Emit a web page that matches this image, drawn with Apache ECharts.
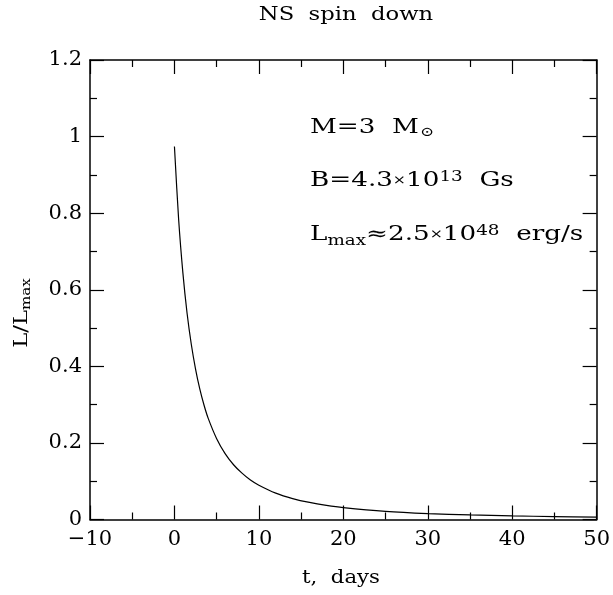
<!DOCTYPE html>
<html>
<head>
<meta charset="utf-8">
<script src="https://cdn.jsdelivr.net/npm/echarts@6/dist/echarts.min.js"></script>
<style>html,body{margin:0;padding:0;background:#fff}#c{width:613px;height:595px}</style>
</head>
<body>
<div id="c"></div>
<script>
// Data
var tDays = [0, 0.5, 1, 1.5, 2, 2.5, 3, 3.5, 4, 5, 6, 7, 8, 9, 10, 12, 14, 16, 18, 20, 25, 30, 35, 40, 45, 50];
var lumRatio = [0.974, 0.783, 0.644, 0.538, 0.457, 0.393, 0.341, 0.299, 0.264, 0.211, 0.172, 0.143, 0.121, 0.103, 0.0895, 0.0689, 0.0547, 0.0445, 0.0369, 0.0311, 0.0214, 0.0156, 0.0119, 0.0094, 0.0076, 0.0062];
var xRange = [-10, 50];
var yRange = [0, 1.2];
var titleText = 'NS  spin  down';
var xName = 't,  days';

var FONT = 'DejaVu Serif';
var SX = 1.26;
var SXA = 1.31;
var chart = echarts.init(document.getElementById('c'), null, {renderer: 'canvas'});
var pts = tDays.map(function (t, i) { return [t, lumRatio[i]]; });

function axisCommon(showLabels, isX) {
  return {
    axisLine: {show: true, onZero: false, lineStyle: {color: '#000', width: 1.5}},
    axisTick: {show: true, inside: true, length: 14, lineStyle: {color: '#000', width: 1.2}},
    minorTick: {show: true, splitNumber: 2, length: 7, lineStyle: {color: '#000', width: 1.2}},
    splitLine: {show: false},
    axisLabel: {show: showLabels, color: '#000', fontFamily: FONT, fontSize: 21,
      margin: isX ? 10 : 8,
      formatter: function (v) { return String(v).replace('-', '\u2212'); }}
  };
}

var option = {
  animation: false,
  backgroundColor: '#fff',
  grid: {left: 90, right: 13, top: 60, bottom: 75.5, containLabel: false},
  xAxis: [
    Object.assign({type: 'value', position: 'bottom', min: xRange[0], max: xRange[1], interval: 10}, axisCommon(true, true)),
    Object.assign({type: 'value', position: 'top', min: xRange[0], max: xRange[1], interval: 10}, axisCommon(false, true))
  ],
  yAxis: [
    Object.assign({type: 'value', position: 'left', min: yRange[0], max: yRange[1], interval: 0.2}, axisCommon(true, false)),
    Object.assign({type: 'value', position: 'right', min: yRange[0], max: yRange[1], interval: 0.2}, axisCommon(false, false))
  ],
  series: [{
    type: 'line', data: pts, showSymbol: false, smooth: 0.3,
    xAxisIndex: 0, yAxisIndex: 0,
    lineStyle: {color: '#000', width: 1.2}
  }],
  graphic: [
    {type: 'text', x: 346, y: 15, scaleX: SX,
      style: {text: titleText, font: '18px "' + FONT + '"', fill: '#000', align: 'center', verticalAlign: 'middle'}},
    {type: 'text', x: 341, y: 578, scaleX: 1.18,
      style: {text: xName, font: '18px "' + FONT + '"', fill: '#000', align: 'center', verticalAlign: 'middle'}},
    {type: 'text', x: 22, y: 313, rotation: Math.PI / 2, scaleX: SX,
      style: {text: '{n|L/L}{s|max}', align: 'center', verticalAlign: 'middle', fill: '#000',
        rich: {n: {fontFamily: FONT, fontSize: 18, fill: '#000'}, s: {fontFamily: FONT, fontSize: 12, padding: [9, 0, 0, 0], fill: '#000'}}}},
    {type: 'text', x: 310, y: 128, scaleX: SXA,
      style: {text: '{n|M=3  M}{s|\u2299}', verticalAlign: 'middle', fill: '#000',
        rich: {n: {fontFamily: FONT, fontSize: 20}, s: {fontFamily: FONT, fontSize: 13, padding: [10, 0, 0, 1]}}}},
    {type: 'text', x: 310, y: 181, scaleX: SXA,
      style: {text: '{n|B=4.3}{x|\u00d7}{n|10}{p|13}{n|  Gs}', verticalAlign: 'middle', fill: '#000',
        rich: {n: {fontFamily: FONT, fontSize: 20}, x: {fontFamily: FONT, fontSize: 12}, p: {fontFamily: FONT, fontSize: 14, padding: [0, 0, 8, 0]}}}},
    {type: 'text', x: 310, y: 235, scaleX: SXA,
      style: {text: '{n|L}{s|max}{n|\u22482.5}{x|\u00d7}{n|10}{p|48}{n|  erg/s}', verticalAlign: 'middle', fill: '#000',
        rich: {n: {fontFamily: FONT, fontSize: 20}, s: {fontFamily: FONT, fontSize: 14, padding: [12, 0, 0, 0]}, x: {fontFamily: FONT, fontSize: 12}, p: {fontFamily: FONT, fontSize: 14, padding: [0, 0, 8, 0]}}}}
  ]
};
chart.setOption(option);
</script>
</body>
</html>
